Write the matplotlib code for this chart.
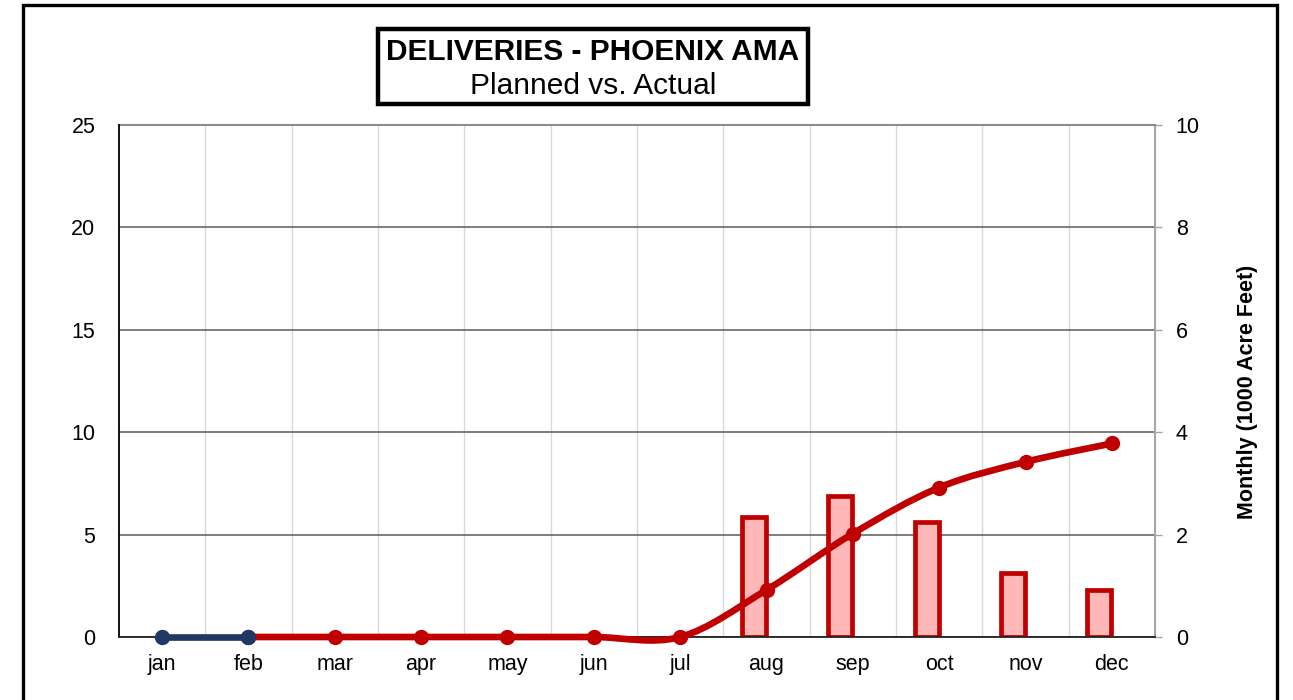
import numpy as np
import matplotlib
matplotlib.use('Agg')
import matplotlib.pyplot as plt
from matplotlib.path import Path
from matplotlib.patches import PathPatch, Rectangle

plt.rcParams['font.family'] = ['Liberation Sans', 'DejaVu Sans']

months = ['jan', 'feb', 'mar', 'apr', 'may', 'jun',
          'jul', 'aug', 'sep', 'oct', 'nov', 'dec']

# cumulative deliveries (left axis)
actual_months = ['jan', 'feb']
actual_cum = [0, 0]
planned_months = ['feb', 'mar', 'apr', 'may', 'jun', 'jul',
                  'aug', 'sep', 'oct', 'nov', 'dec']
planned_cum = [0, 0, 0, 0, 0, 0, 2.3, 5.05, 7.3, 8.55, 9.45]

# monthly deliveries (right axis, 1000 acre feet)
bar_months = ['aug', 'sep', 'oct', 'nov', 'dec']
bar_values = [2.34, 2.75, 2.25, 1.25, 0.92]

RED = '#C00000'
NAVY = '#1F3864'
PINK = '#FFB7B7'


def smooth_path(x, y):
    # Excel-like smoothed line: catmull-rom segments as cubic beziers
    pts = np.column_stack((x, y)).astype(float)
    ext = np.vstack((pts[0], pts, pts[-1]))
    verts = [pts[0]]
    codes = [Path.MOVETO]
    for i in range(1, len(ext) - 2):
        p0, p1, p2, p3 = ext[i - 1], ext[i], ext[i + 1], ext[i + 2]
        c1 = p1 + (p2 - p0) / 6.0
        c2 = p2 - (p3 - p1) / 6.0
        verts += [c1, c2, p2]
        codes += [Path.CURVE4] * 3
    return Path(verts, codes)


fig = plt.figure(figsize=(12.93, 7.0), dpi=100)
ax2 = fig.add_axes([0.0920, 0.0900, 0.8013, 0.7314])
ax = ax2.twinx()
ax.yaxis.tick_left()
ax.set_zorder(ax2.get_zorder() + 1)
ax.patch.set_visible(False)

xpos = {m: i for i, m in enumerate(months)}

# bars on the right axis
bx = np.array([xpos[m] for m in bar_months]) - 0.145
ax2.bar(bx, bar_values, width=0.28, color=PINK, edgecolor=RED,
        linewidth=3.4, zorder=3)
ax2.set_ylim(0, 10)
ax2.set_yticks(np.arange(0, 11, 2))
ax2.set_xlim(-0.5, 11.5)
ax2.set_xticks(range(12))
ax2.set_xticklabels(months)
ax2.set_xticks(np.arange(0.5, 11.5, 1), minor=True)
ax2.set_axisbelow(True)
ax2.grid(axis='y', which='major', color='#5a5a5a', linewidth=1.1)
ax2.grid(axis='x', which='minor', color='#d9d9d9', linewidth=1.0)
ax2.grid(axis='x', which='major', visible=False)
ax2.tick_params(axis='x', which='both', length=0, pad=12, labelsize=15.5,
                colors='#000000')
ax2.tick_params(axis='y', length=5, width=1, color='#a6a6a6', pad=10,
                labelsize=15.5, labelright=True, labelleft=False,
                right=True, left=False)
ax2.yaxis.set_label_position('right')
ax2.set_ylabel('Monthly (1000 Acre Feet)', fontsize=15.5, fontweight='bold')
ax2.yaxis.set_label_coords(1.079, 0.478)
for s in ['left', 'bottom']:
    ax2.spines[s].set_visible(False)
ax2.spines['top'].set_color('#8c8c8c')
ax2.spines['top'].set_linewidth(1.5)
ax2.spines['right'].set_color('#a6a6a6')
ax2.spines['right'].set_linewidth(1.5)

# cumulative lines on the left axis
px = [xpos[m] for m in planned_months]
ax.add_patch(PathPatch(smooth_path(px, planned_cum), facecolor='none',
                       edgecolor=RED, linewidth=4.8, capstyle='round',
                       zorder=4, clip_on=False))
ax.plot(px, planned_cum, 'o', color=RED, markersize=10, zorder=5,
        clip_on=False)
axx = [xpos[m] for m in actual_months]
ax.plot(axx, actual_cum, '-o', color=NAVY, linewidth=4.8, markersize=10,
        zorder=6, solid_capstyle='round', clip_on=False)
ax.set_ylim(0, 25)
ax.set_yticks(np.arange(0, 26, 5))
ax.set_xlim(-0.5, 11.5)
ax.tick_params(axis='y', length=0, pad=17, labelsize=15.5)
for s in ['top', 'right']:
    ax.spines[s].set_visible(False)
ax.spines['left'].set_color('#000000')
ax.spines['left'].set_linewidth(1.3)
ax.spines['bottom'].set_color('#222222')
ax.spines['bottom'].set_linewidth(1.3)

# title box
W, H = 1293.0, 700.0
fig.patches.append(Rectangle((378 / W, 1 - 103.5 / H), 430 / W, 75 / H,
                             transform=fig.transFigure, fill=False,
                             edgecolor='#000000', linewidth=3.2))
fig.text(593 / W, 1 - 52 / H, 'DELIVERIES - PHOENIX AMA', ha='center',
         va='center', fontsize=21.5, fontweight='bold')
fig.text(593 / W, 1 - 86 / H, 'Planned vs. Actual', ha='center',
         va='center', fontsize=21.5)

# outer frame
fig.patches.append(Rectangle((22.5 / W, -0.05), 1254 / W, 0.05 + 1 - 5.5 / H,
                             transform=fig.transFigure, fill=False,
                             edgecolor='#000000', linewidth=2.4,
                             clip_on=False))

fig.savefig('out.png', dpi=100)
